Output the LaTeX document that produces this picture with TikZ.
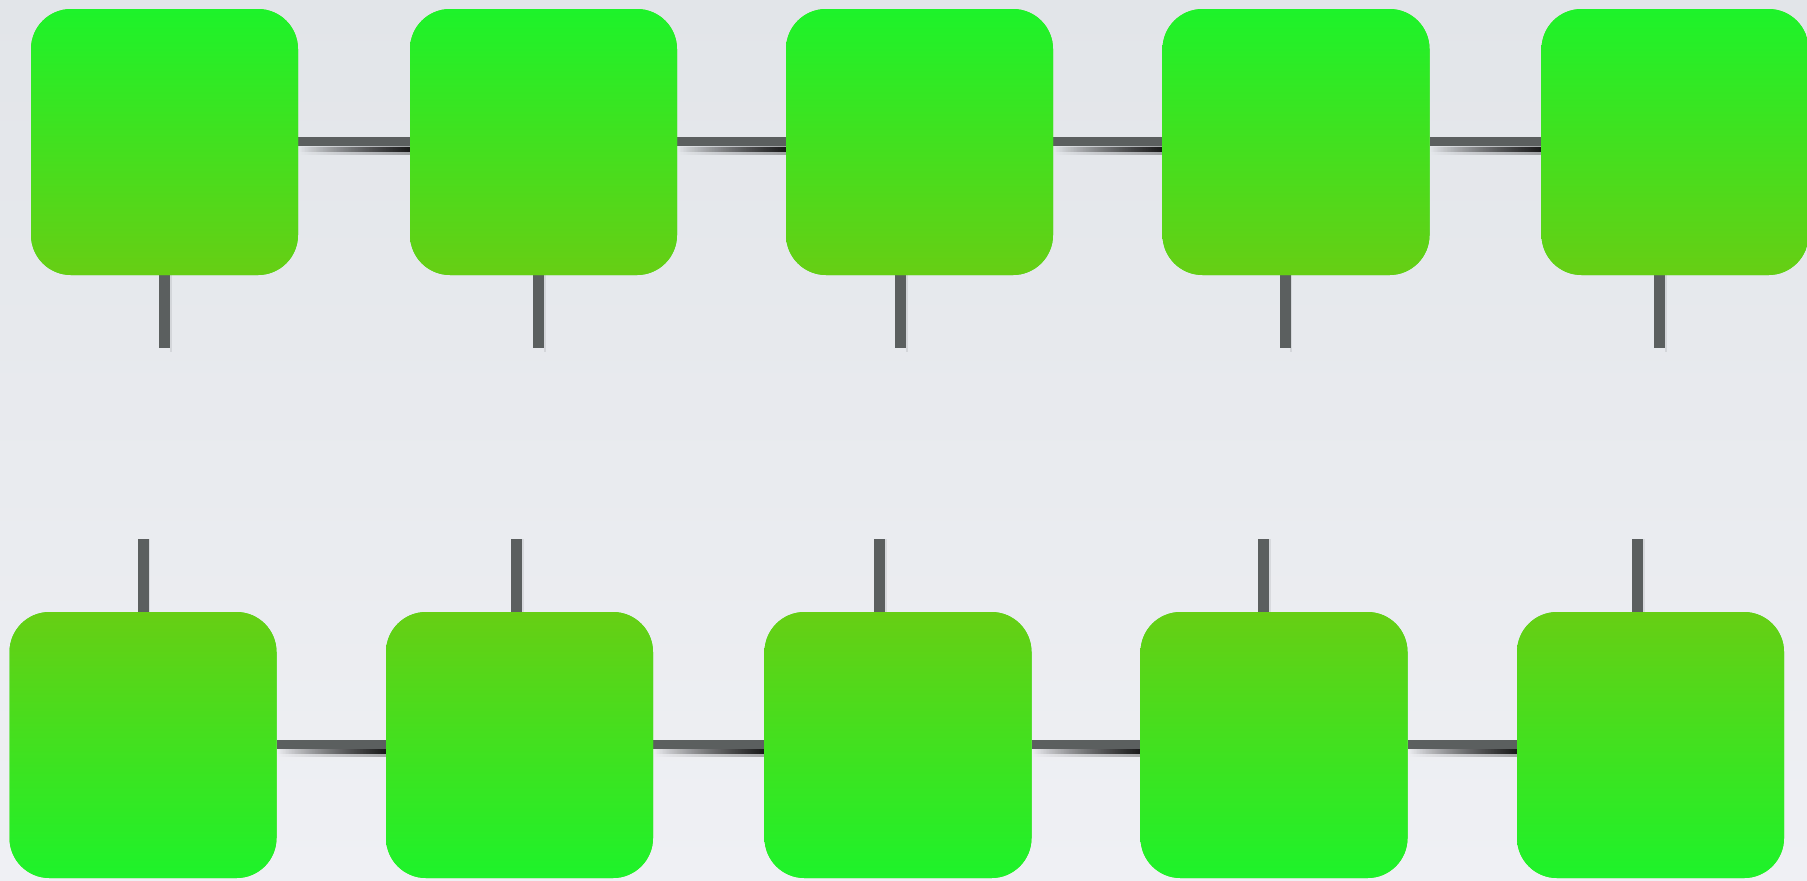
\documentclass[tikz,border=0pt]{standalone}
\usetikzlibrary{fadings,calc}

\definecolor{bgtop}{RGB}{226,229,233}
\definecolor{bgbot}{RGB}{239,240,244}
\definecolor{greenhi}{RGB}{29,243,42}
\definecolor{greenlo}{RGB}{103,206,20}
\definecolor{greenmid}{RGB}{66,224,31}
\definecolor{wire}{RGB}{91,95,95}

\pgfdeclarelayer{back}
\pgfdeclarelayer{wires}
\pgfsetlayers{back,wires,main}

% shadow under a wire: fades in from the left
\tikzfading[name=wireshade, left color=transparent!100, right color=transparent!0]

\tikzset{
  cell/.style={rectangle, rounded corners=20pt, inner sep=0pt,
               minimum width=133.5pt, minimum height=133pt, draw=none},
  celltop/.style={cell, fill=greenmid, top color=greenhi, bottom color=greenlo},
  cellbot/.style={cell, fill=greenmid, top color=greenlo, bottom color=greenhi},
  link/.style={draw=wire, line width=4.5pt},
  stub/.style={draw=wire, line width=5.5pt},
  soft/.style={fill=black, path fading=wireshade},
}

\begin{document}
\begin{tikzpicture}[x=0.5pt, y=-0.5pt]
  \useasboundingbox (0,0) rectangle (1807,880);
  \begin{pgfonlayer}{back}
    \shade[top color=bgtop, bottom color=bgbot] (0,0) rectangle (1807,880);
  \end{pgfonlayer}

  % upper chain
  \foreach \i/\x/\s in {1/164.5/164.5, 2/543.5/538.5, 3/919.5/900.5,
                        4/1296/1285, 5/1675/1659.5} {
    \node[celltop] (t\i) at (\x,142) {};
    \coordinate (ts\i) at (\s,348);
  }
  % lower chain
  \foreach \i/\x/\s in {1/143/143, 2/519.5/516.5, 3/898/879.5,
                        4/1274/1263.5, 5/1650.5/1637.5} {
    \node[cellbot] (b\i) at (\x,745) {};
    \coordinate (bs\i) at (\s,539);
  }

  \begin{pgfonlayer}{wires}
    % horizontal links with their soft shadows
    \foreach \r/\dy in {t/-0.5, b/-1} {
      \foreach \i/\j in {1/2, 2/3, 3/4, 4/5} {
        \fill[soft, opacity=0.3] ($(\r\i.east)+(0,\dy+3)$) rectangle ($(\r\j.west)+(0,\dy+13)$);
        \fill[soft, opacity=0.85] ($(\r\i.east)+(0,\dy+5)$) rectangle ($(\r\j.west)+(0,\dy+10)$);
        \draw[link] ($(\r\i.east)+(0,\dy)$) -- ($(\r\j.west)+(0,\dy)$);
      }
    }
    % vertical stubs
    \foreach \i in {1,...,5} {
      \draw[draw=black, line width=1pt, opacity=0.08]
        ($(ts\i |- t\i.south)+(6,0)$) -- ($(ts\i)+(6,4)$);
      \draw[stub] (ts\i |- t\i.south) -- (ts\i);
      \draw[draw=black, line width=1pt, opacity=0.08]
        ($(bs\i)+(6,0)$) -- ($(bs\i |- b\i.north)+(6,0)$);
      \draw[stub] (bs\i) -- (bs\i |- b\i.north);
    }
  \end{pgfonlayer}
\end{tikzpicture}
\end{document}
